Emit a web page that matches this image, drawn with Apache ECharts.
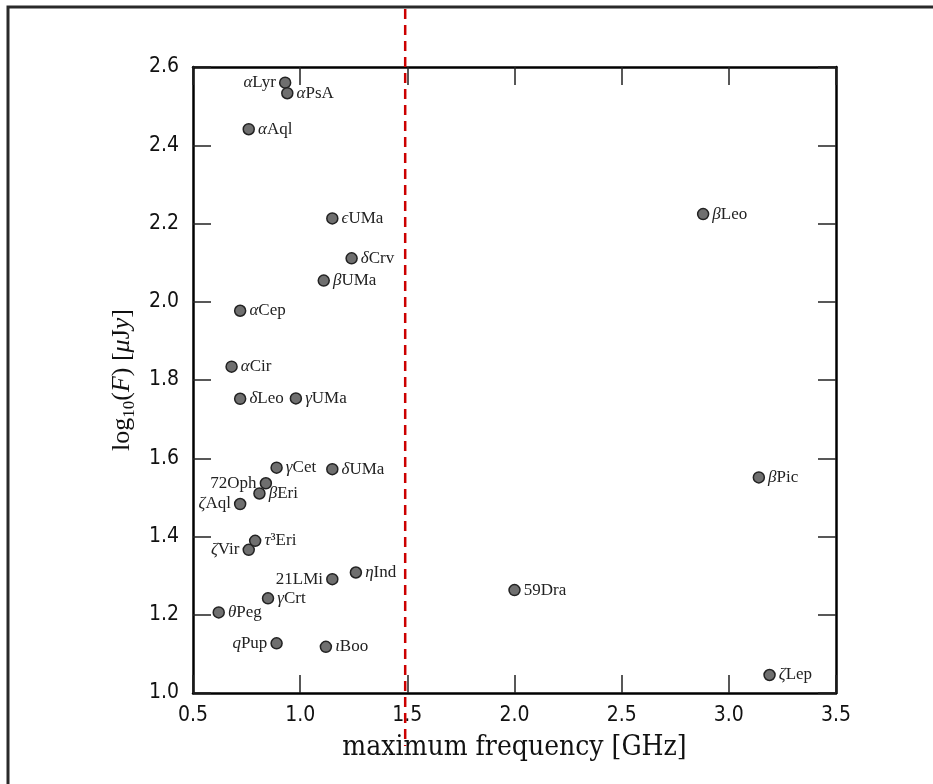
<!DOCTYPE html>
<html>
<head>
<meta charset="utf-8">
<script src="https://cdn.jsdelivr.net/npm/echarts@6/dist/echarts.min.js"></script>
<style>
  html, body { margin: 0; padding: 0; background: #fff; }
  #chart { width: 933px; height: 784px; }
</style>
</head>
<body>
<div id="chart"></div>
<script>
// ---- data ----
const starNames = ['αLyr','αPsA','αAql','ϵUMa','δCrv','βUMa','αCep','αCir','δLeo','γUMa',
  'γCet','δUMa','72Oph','βEri','ζAql','τ³Eri','ζVir','21LMi','ηInd','γCrt','θPeg','qPup','ιBoo',
  'βLeo','βPic','59Dra','ζLep'];
const maxFrequency = [0.93,0.94,0.76,1.15,1.24,1.11,0.72,0.68,0.72,0.98,
  0.89,1.15,0.84,0.81,0.72,0.79,0.76,1.15,1.26,0.85,0.62,0.89,1.12,
  2.88,3.14,2.00,3.19];
const logFlux = [2.560,2.533,2.441,2.213,2.111,2.054,1.977,1.834,1.752,1.753,
  1.576,1.572,1.536,1.510,1.483,1.389,1.366,1.291,1.308,1.242,1.206,1.127,1.118,
  2.224,1.551,1.263,1.046];
const labelLeftStars = ['αLyr','72Oph','ζAql','ζVir','21LMi','qPup'];
const thresholdFrequency = 1.49;
const xTicks = { min: 0.5, max: 3.5, step: 0.5 };
const yTicks = { min: 1.0, max: 2.6, step: 0.2 };

const tickFont = 'DejaVu Sans Condensed, DejaVu Sans';
const serif = 'Liberation Serif, DejaVu Serif, serif';

const chart = echarts.init(document.getElementById('chart'), null, { renderer: 'canvas' });

const pointData = starNames.map((n, i) => ({
  name: n,
  value: [maxFrequency[i], logFlux[i]],
  label: { position: labelLeftStars.includes(n) ? 'left' : 'right' }
}));

function starLabel(p) {
  const n = p.name;
  const first = n[0];
  if (/[α-ωϵq]/.test(first)) return '{i|' + first + '}{r|' + n.slice(1) + '}';
  return '{r|' + n + '}';
}

const axisCommon = {
  type: 'value',
  axisLine: { show: true, onZero: false, lineStyle: { color: '#000', width: 2.5 } },
  axisTick: { show: true, inside: true, length: 18, lineStyle: { color: '#222', width: 1.5 } },
  splitLine: { show: false }
};

const option = {
  backgroundColor: '#fff',
  animation: false,
  grid: { left: 193, right: 97, top: 67, bottom: 91, containLabel: false },
  xAxis: [
    Object.assign({}, axisCommon, {
      position: 'bottom',
      min: xTicks.min, max: xTicks.max, interval: xTicks.step,
      axisLabel: { formatter: v => v.toFixed(1), fontSize: 21, color: '#111', margin: 12, fontFamily: tickFont },
      name: 'maximum frequency [GHz]',
      nameLocation: 'middle',
      nameGap: 41,
      nameTextStyle: { fontSize: 28, color: '#111', fontFamily: 'DejaVu Serif Condensed, DejaVu Serif, serif' }
    }),
    Object.assign({}, axisCommon, {
      position: 'top',
      min: xTicks.min, max: xTicks.max, interval: xTicks.step,
      axisLabel: { show: false }
    })
  ],
  yAxis: [
    Object.assign({}, axisCommon, {
      position: 'left',
      min: yTicks.min, max: yTicks.max, interval: yTicks.step,
      axisLabel: { formatter: v => v.toFixed(1), fontSize: 21, color: '#111', margin: 14, fontFamily: tickFont },
      name: '{r|log}{s|10}{r|(}{i|F}{r|) [}{i|μ}{r|J}{i|y}{r|]}',
      nameLocation: 'middle',
      nameRotate: 90,
      nameGap: 52,
      nameTextStyle: {
        rich: {
          r: { fontSize: 26, fontFamily: serif, color: '#111', lineHeight: 32, verticalAlign: 'middle' },
          i: { fontSize: 26, fontFamily: serif, fontStyle: 'italic', color: '#111', lineHeight: 32, verticalAlign: 'middle' },
          s: { fontSize: 17, fontFamily: serif, color: '#111', lineHeight: 17, verticalAlign: 'bottom' }
        }
      }
    }),
    Object.assign({}, axisCommon, {
      position: 'right',
      min: yTicks.min, max: yTicks.max, interval: yTicks.step,
      axisLabel: { show: false }
    })
  ],
  series: [{
    type: 'scatter',
    data: pointData,
    symbol: 'circle',
    symbolSize: 11,
    itemStyle: { color: '#6f6f6f', borderColor: '#222', borderWidth: 1.5, opacity: 1 },
    label: {
      show: true,
      distance: 3,
      color: '#222',
      formatter: starLabel,
      rich: {
        r: { fontSize: 17, fontFamily: serif, color: '#222' },
        i: { fontSize: 17, fontFamily: serif, fontStyle: 'italic', color: '#222' }
      }
    },
    labelLayout: { hideOverlap: false },
    z: 5
  }]
};

chart.setOption(option);

const lineX = chart.convertToPixel({ xAxisIndex: 0 }, thresholdFrequency);
chart.setOption({
  graphic: [
    {
      type: 'rect', z: 1, silent: true,
      shape: { x: 8, y: 7, width: 1000, height: 900 },
      style: { fill: null, stroke: '#2a2a2a', lineWidth: 3 }
    },
    {
      type: 'line', z: 100, silent: true,
      shape: { x1: lineX, y1: 9, x2: lineX, y2: 746 },
      style: { stroke: '#cc0000', lineWidth: 2.5, lineDash: [10, 6] }
    }
  ]
});
</script>
</body>
</html>
